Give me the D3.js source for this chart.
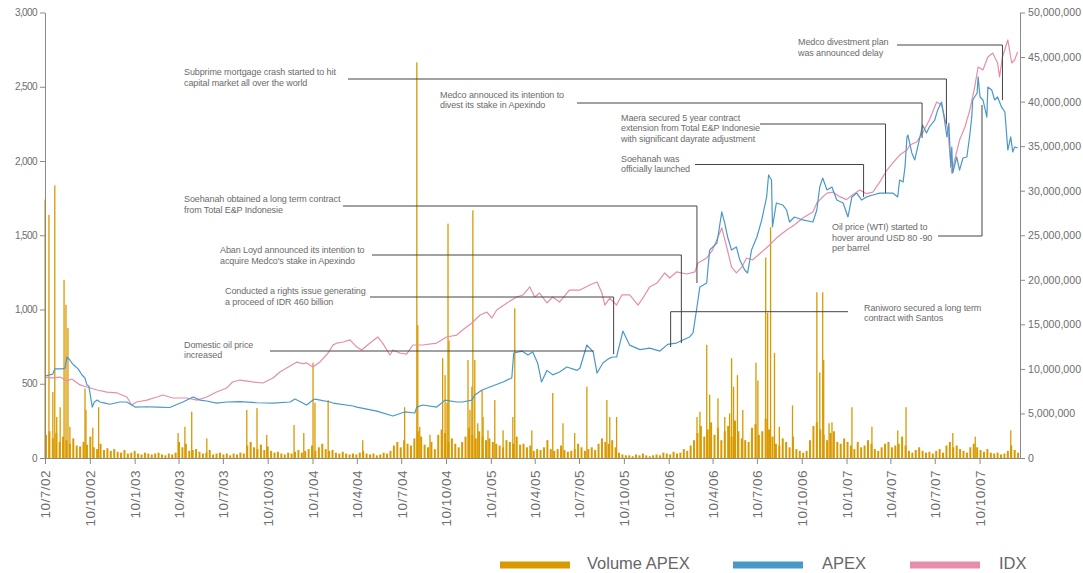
<!DOCTYPE html>
<html>
<head>
<meta charset="utf-8">
<script src="https://cdn.jsdelivr.net/npm/d3@7"></script>
<style>
  body { margin: 0; background: #fff; }
  svg text { font-family: "Liberation Sans", Arial, sans-serif; }
</style>
</head>
<body>
<svg id="chart" width="1083" height="573"></svg>
<script>
// ---- data ----
// APEX share price (left axis)
const apex = [
  ["2002-07-10",552],["2002-07-26",565],["2002-07-30",600],["2002-08-14",600],["2002-08-20",605],["2002-08-24",680],
  ["2002-08-30",660],["2002-09-03",640],["2002-09-07",626],["2002-09-16",600],["2002-09-24",559],["2002-09-30",539],
  ["2002-10-04",492],["2002-10-08",485],["2002-10-15",343],["2002-10-19",375],["2002-10-25",390],["2002-10-31",377],
  ["2002-11-10",370],["2002-11-20",362],["2002-12-11",377],["2002-12-25",377],["2003-01-04",357],["2003-01-11",343],
  ["2003-02-04",345],["2003-02-25",343],["2003-03-23",340],["2003-04-09",364],["2003-04-19",377],["2003-05-10",411],
  ["2003-05-24",390],["2003-06-07",384],["2003-06-27",370],["2003-07-18",377],["2003-08-14",380],["2003-09-18",372],
  ["2003-10-21",370],["2003-11-25",377],["2003-12-05",397],["2003-12-29",357],["2004-01-11",390],["2004-01-15",397],
  ["2004-02-15",377],["2004-02-21",370],["2004-04-02",350],["2004-04-10",343],["2004-05-21",316],["2004-06-23",283],
  ["2004-07-17",310],["2004-08-07",303],["2004-08-11",343],["2004-08-23",357],["2004-09-21",343],["2004-10-08",390],
  ["2004-11-01",377],["2004-11-13",377],["2004-12-02",390],["2004-12-08",424],["2004-12-23",458],["2005-01-08",478],
  ["2005-02-04",512],["2005-02-22",539],["2005-02-26",707],["2005-03-15",720],["2005-03-27",694],["2005-04-06",714],
  ["2005-04-16",640],["2005-04-24",512],["2005-05-05",590],["2005-05-17",560],["2005-05-31",579],["2005-06-15",613],
  ["2005-07-06",590],["2005-07-12",606],["2005-07-26",761],["2005-08-08",714],["2005-08-16",572],["2005-08-28",640],
  ["2005-09-05",660],["2005-09-11",673],["2005-09-17",680],["2005-09-25",680],["2005-10-08",855],["2005-10-22",760],
  ["2005-11-12",730],["2005-12-02",740],["2005-12-23",720],["2006-01-08",765],["2006-01-18",770],["2006-01-26",774],
  ["2006-02-08",795],["2006-02-22",815],["2006-03-01",842],["2006-03-09",1017],["2006-03-15",1152],["2006-03-29",1178],
  ["2006-04-04",1400],["2006-04-19",1448],["2006-04-29",1657],["2006-05-05",1582],["2006-05-11",1488],["2006-05-19",1400],
  ["2006-05-29",1421],["2006-06-05",1333],["2006-06-15",1266],["2006-06-21",1246],["2006-06-29",1400],["2006-07-10",1488],
  ["2006-07-20",1603],["2006-07-30",1758],["2006-08-03",1906],["2006-08-09",1872],["2006-08-11",1556],["2006-08-19",1717],
  ["2006-09-01",1704],["2006-09-09",1670],["2006-09-15",1589],["2006-09-25",1623],["2006-10-12",1603],["2006-11-02",1589],
  ["2006-11-10",1670],["2006-11-16",1825],["2006-11-22",1885],["2006-12-01",1805],["2006-12-11",1825],["2006-12-21",1737],
  ["2007-01-03",1717],["2007-01-13",1623],["2007-01-21",1758],["2007-01-31",1784],["2007-02-10",1737],["2007-02-20",1758],
  ["2007-03-05",1771],["2007-03-19",1784],["2007-04-03",1784],["2007-04-15",1784],["2007-04-25",1758],["2007-04-29",1872],
  ["2007-05-06",1858],["2007-05-10",1960],["2007-05-14",2162],["2007-05-16",2175],["2007-05-24",2054],["2007-05-30",2007],
  ["2007-06-05",2094],["2007-06-13",2209],["2007-06-15",2242],["2007-06-23",2189],["2007-06-29",2229],["2007-07-10",2276],
  ["2007-07-16",2343],["2007-07-24",2397],["2007-07-28",2323],["2007-08-04",2162],["2007-08-08",2256],["2007-08-12",1960],
  ["2007-08-14",2094],["2007-08-16",1919],["2007-08-24",2027],["2007-08-30",1939],["2007-09-06",2020],["2007-09-14",2027],
  ["2007-09-20",2175],["2007-09-24",2296],["2007-09-26",2411],["2007-10-05",2458],["2007-10-07",2566],["2007-10-11",2431],
  ["2007-10-17",2411],["2007-10-25",2296],["2007-10-27",2498],["2007-11-04",2478],["2007-11-10",2411],["2007-11-16",2431],
  ["2007-11-24",2364],["2007-12-01",2330],["2007-12-07",2074],["2007-12-13",2162],["2007-12-17",2061],["2007-12-21",2094],
  ["2007-12-27",2088]
];

// IDX composite (left axis)
const idx = [
  ["2002-07-10",545],["2002-07-26",539],["2002-08-10",545],["2002-08-24",519],["2002-09-03",532],["2002-09-20",492],
  ["2002-10-04",478],["2002-10-25",458],["2002-11-14",444],["2002-12-05",438],["2002-12-25",411],["2003-01-04",357],
  ["2003-01-14",377],["2003-02-04",390],["2003-02-25",411],["2003-03-09",424],["2003-03-29",404],["2003-04-27",404],
  ["2003-05-18",390],["2003-06-07",411],["2003-06-27",444],["2003-07-18",471],["2003-07-30",512],["2003-08-14",525],
  ["2003-09-09",512],["2003-09-30",505],["2003-10-21",539],["2003-11-04",579],["2003-11-25",620],["2003-12-09",646],
  ["2003-12-21",635],["2003-12-29",640],["2004-01-11",613],["2004-01-25",646],["2004-02-11",707],["2004-02-21",760],
  ["2004-02-29",774],["2004-03-13",781],["2004-03-27",795],["2004-04-10",747],["2004-04-20",727],["2004-05-07",774],
  ["2004-05-23",815],["2004-06-02",774],["2004-06-17",694],["2004-06-23",727],["2004-07-07",707],["2004-07-21",700],
  ["2004-08-03",761],["2004-08-23",761],["2004-09-21",774],["2004-10-11",815],["2004-11-01",828],["2004-11-13",862],
  ["2004-12-02",909],["2004-12-19",963],["2005-01-02",983],["2005-01-12",943],["2005-01-22",997],["2005-02-12",1044],
  ["2005-03-04",1084],["2005-03-17",1098],["2005-03-31",1152],["2005-04-10",1084],["2005-04-20",1111],["2005-05-05",1044],
  ["2005-05-17",1084],["2005-05-31",1050],["2005-06-20",1131],["2005-07-12",1131],["2005-08-01",1165],["2005-08-16",1185],
  ["2005-08-26",1111],["2005-09-01",1030],["2005-09-11",1077],["2005-09-25",1030],["2005-10-06",1098],["2005-10-22",1098],
  ["2005-11-08",1030],["2005-11-18",1077],["2005-12-02",1152],["2005-12-17",1178],["2006-01-02",1246],["2006-01-12",1212],
  ["2006-01-26",1253],["2006-02-16",1239],["2006-03-05",1253],["2006-03-11",1313],["2006-03-29",1347],["2006-04-10",1400],
  ["2006-04-29",1549],["2006-05-09",1421],["2006-05-19",1286],["2006-05-29",1246],["2006-06-09",1286],["2006-06-19",1347],
  ["2006-07-01",1333],["2006-07-20",1387],["2006-08-05",1434],["2006-08-19",1481],["2006-09-09",1535],["2006-09-25",1569],
  ["2006-10-12",1616],["2006-11-02",1657],["2006-11-10",1717],["2006-11-22",1758],["2006-12-01",1784],["2006-12-13",1791],
  ["2006-12-27",1760],["2007-01-10",1740],["2007-01-22",1771],["2007-02-06",1805],["2007-02-20",1780],["2007-03-05",1790],
  ["2007-03-19",1858],["2007-04-03",1939],["2007-04-15",1987],["2007-04-29",2040],["2007-05-14",2074],["2007-05-20",2108],
  ["2007-06-03",2128],["2007-06-15",2189],["2007-06-29",2276],["2007-07-14",2397],["2007-07-24",2377],["2007-07-30",2296],
  ["2007-08-06",2209],["2007-08-10",2054],["2007-08-14",1919],["2007-08-20",2007],["2007-08-30",2141],["2007-09-10",2229],
  ["2007-09-20",2343],["2007-09-30",2498],["2007-10-07",2633],["2007-10-17",2613],["2007-10-27",2700],["2007-11-06",2727],
  ["2007-11-16",2660],["2007-11-20",2566],["2007-11-26",2700],["2007-12-07",2815],["2007-12-15",2660],["2007-12-21",2680],
  ["2007-12-27",2734]
];

// APEX volume, typical weekly level in millions of shares (right axis), weeks from 10 Jul 2002
const volWeekStart = "2002-07-10";
const volWeekly = [
  2.6,3.0,2.2,2.8,1.8,2.4,2.0,1.6,2.2,1.4, 1.3,1.8,1.5,2.4,1.2,1.0,1.6,0.9,1.1,0.8,
  1.0,0.7,0.6,0.9,0.5,0.6,0.8,0.5,0.4,0.6, 0.5,0.4,0.5,0.6,0.4,0.3,0.5,0.4,0.6,1.8,
  1.2,1.6,0.8,0.9,1.0,0.7,0.5,0.6,0.9,0.4, 0.5,0.6,0.4,0.5,0.3,0.5,0.4,0.6,0.5,1.4,
  1.8,1.2,1.0,1.5,0.9,1.3,0.8,0.6,0.7,0.5, 0.4,0.6,0.5,0.7,0.9,0.6,0.8,1.0,1.4,0.8,
  1.2,1.6,1.0,0.8,0.9,0.6,0.5,0.7,0.5,0.4, 0.5,0.4,0.6,0.8,0.5,0.4,0.5,0.3,0.4,0.6,
  0.5,0.8,1.4,1.8,1.2,2.0,1.6,1.4,2.2,3.0, 2.4,1.5,1.2,1.8,1.0,2.6,3.2,2.8,1.8,2.2,
  1.6,1.2,1.8,2.4,3.4,2.6,2.2,3.0,2.4,2.0, 2.2,1.8,1.6,1.4,1.2,2.0,1.8,1.6,2.4,1.5,
  1.6,1.2,1.4,0.8,1.0,0.9,1.2,2.0,1.0,0.8, 1.0,1.4,0.9,0.7,0.8,1.0,1.6,1.2,0.8,1.0,
  1.2,0.9,1.6,2.2,1.8,1.6,2.0,1.2,0.6,0.4, 0.3,0.3,0.2,0.4,0.3,0.5,0.3,0.2,0.3,0.4,
  0.3,0.6,0.5,0.4,0.7,0.5,0.6,1.0,0.8,1.4, 2.0,2.8,3.6,2.4,3.2,4.0,2.6,3.4,2.0,3.0,
  3.6,2.4,4.2,3.0,2.2,2.0,1.8,3.4,3.8,2.6, 3.0,4.4,3.2,2.4,1.6,1.4,2.2,1.8,1.2,2.4,
  1.0,0.8,0.6,0.8,2.0,3.6,4.0,3.2,2.6,2.0, 2.8,3.0,1.8,1.6,2.2,1.8,1.4,1.0,1.8,1.2,
  1.4,2.0,1.6,1.0,0.8,1.2,1.6,1.8,1.2,1.4, 1.6,2.4,1.4,0.8,0.6,0.9,1.2,0.8,0.6,0.7,
  0.5,0.8,1.0,0.6,1.4,1.8,1.2,1.4,1.0,0.8, 0.6,1.2,1.6,1.2,0.9,0.7,1.0,0.6,0.5,0.6,
  0.4,0.5,0.8,1.4,0.9,0.6
];

// single-day volume spikes, millions of shares
const volSpikes = [
  ["2002-07-10",29.0],["2002-07-18",27.3],["2002-07-26",7.4],["2002-07-30",30.6],["2002-08-03",4.6],["2002-08-10",5.7],
  ["2002-08-18",20.0],["2002-08-22",17.2],["2002-08-26",14.6],["2002-08-30",3.5],["2002-09-30",7.8],["2002-10-02",5.4],
  ["2002-10-16",3.4],["2002-10-28",5.7],["2003-04-09",2.8],["2003-04-23",3.5],["2003-05-07",5.2],["2003-06-07",2.2],
  ["2003-08-28",5.4],["2003-09-18",5.6],["2003-10-08",2.6],["2003-12-03",3.7],["2003-12-23",2.8],["2004-01-11",10.7],
  ["2004-01-15",6.2],["2004-02-11",6.5],["2004-04-22",2.0],["2004-07-17",5.7],["2004-08-11",44.4],["2004-08-13",14.9],
  ["2004-08-17",3.5],["2004-09-07",2.6],["2004-10-03",11.2],["2004-10-08",9.3],["2004-10-12",6.2],["2004-10-14",26.3],
  ["2004-10-16",13.2],["2004-11-24",11.0],["2004-11-28",5.4],["2004-12-02",8.0],["2004-12-04",27.8],["2004-12-08",11.0],
  ["2004-12-14",3.9],["2004-12-23",7.6],["2004-12-25",4.6],["2005-01-04",3.1],["2005-01-18",6.5],["2005-02-04",3.1],
  ["2005-02-24",4.6],["2005-02-28",16.8],["2005-04-04",3.1],["2005-05-17",7.3],["2005-06-07",3.9],["2005-07-01",2.8],
  ["2005-07-26",8.0],["2005-09-05",6.5],["2005-09-11",4.6],["2005-09-25",4.6],["2006-03-09",4.6],["2006-03-15",5.2],
  ["2006-03-29",12.7],["2006-04-04",7.1],["2006-04-21",6.7],["2006-05-05",4.6],["2006-05-15",5.0],["2006-05-19",11.2],
  ["2006-05-23",8.0],["2006-05-31",9.3],["2006-06-11",5.4],["2006-06-29",2.9],["2006-07-08",10.7],["2006-07-12",8.7],
  ["2006-07-28",22.5],["2006-08-01",16.3],["2006-08-07",25.9],["2006-08-15",11.8],["2006-08-25",3.5],["2006-09-21",5.9],
  ["2006-11-10",18.6],["2006-11-16",9.6],["2006-11-22",18.6],["2006-11-24",11.0],["2006-12-05",3.9],["2006-12-11",4.0],
  ["2007-01-21",5.7],["2007-03-03",3.5],["2007-04-25",3.1],["2007-05-12",5.7],["2007-08-16",2.8],["2007-10-01",2.4],
  ["2007-12-13",3.1]
];

const leftTicks = [0, 500, 1000, 1500, 2000, 2500, 3000];
const rightTicks = [0, 5e6, 10e6, 15e6, 20e6, 25e6, 30e6, 35e6, 40e6, 45e6, 50e6];
const xTicks = ["2002-07-10","2002-10-10","2003-01-10","2003-04-10","2003-07-10","2003-10-10","2004-01-10","2004-04-10",
  "2004-07-10","2004-10-10","2005-01-10","2005-04-10","2005-07-10","2005-10-10","2006-01-10","2006-04-10",
  "2006-07-10","2006-10-10","2007-01-10","2007-04-10","2007-07-10","2007-10-10"];

// events: date of the connector, value where it points (left axis), label lines
const events = [
  { date: "2007-08-03", value: 2250, text: ["Subprime mortgage crash started to hit", "capital market all over the world"] },
  { date: "2007-06-14", value: 2155, text: ["Medco annouced its intention to", "divest its stake in Apexindo"] },
  { date: "2007-03-31", value: 1785, text: ["Maera secured 5 year contract", "extension from Total E&P Indonesie", "with significant dayrate adjustment"] },
  { date: "2007-02-14", value: 1758, text: ["Soehanah was", "officially launched"] },
  { date: "2006-03-09", value: 1178, text: ["Soehanah obtained a long term contract", "from Total E&P Indonesie"] },
  { date: "2006-02-05", value: 774, text: ["Aban Loyd announced its intention to", "acquire Medco's stake in Apexindo"] },
  { date: "2005-09-19", value: 700, text: ["Conducted a rights issue generating", "a proceed of IDR 460 billion"] },
  { date: "2005-08-09", value: null, text: ["Domestic oil price", "increased"] },
  { date: "2006-01-14", value: 747, text: ["Raniworo secured a long term", "contract with  Santos"] },
  { date: "2007-10-15", value: 2377, text: ["Oil price (WTI) started to", "hover around USD 80 -90", "per barrel"] },
  { date: "2007-11-26", value: 2411, text: ["Medco divestment plan", "was announced delay"] }
];

// ---- layout ----
const X0 = 45, X1 = 1020, Y0 = 458, Y1 = 12.5;
// label position (tx, first baseline ty) and horizontal connector (ly, starting at lx)
const eventLayout = [
  { tx: 184, ty: 75, ly: 79, lx: 348 },
  { tx: 440, ty: 97.5, ly: 103, lx: 577 },
  { tx: 621, ty: 120.5, ly: 124, lx: 760 },
  { tx: 621, ty: 161.5, ly: 164.5, lx: 695 },
  { tx: 184, ty: 202, ly: 206, lx: 343 },
  { tx: 220, ty: 253.2, ly: 255, lx: 372 },
  { tx: 225, ty: 294, ly: 297, lx: 370 },
  { tx: 184, ty: 347.5, ly: 351, lx: 270 },
  { tx: 864, ty: 310.5, ly: 311.7, lx: 848 },
  { tx: 832, ty: 230, ly: 236, lx: 938 },
  { tx: 798, ty: 45, ly: 45, lx: 897 }
];

const colVol = "#d99a00", colApex = "#4a98c8", colIdx = "#e68eab";
const axisCol = "#8a8a8a", labelCol = "#6e6e6e";

const parse = d3.timeParse("%Y-%m-%d");
const svg = d3.select("#chart");

const x = d3.scaleTime().domain([parse("2002-07-10"), parse("2008-01-01")]).range([X0, X1]);
const yL = d3.scaleLinear().domain([0, 3000]).range([Y0, Y1]);
const yR = d3.scaleLinear().domain([0, 50e6]).range([Y0, Y1]);

// volume bars
const start = parse(volWeekStart);
const weekly = volWeekly.map((v, i) => ({ date: d3.timeDay.offset(start, i * 7), v: v * 1e6 }));
svg.append("g").selectAll("rect")
  .data(weekly)
  .enter()
  .append("rect")
  .attr("x", d => x(d.date))
  .attr("y", d => yR(d.v))
  .attr("width", 2)
  .attr("height", d => Y0 - yR(d.v))
  .attr("fill", colVol);

svg.append("g").selectAll("rect")
  .data(volSpikes)
  .enter()
  .append("rect")
  .attr("x", d => x(parse(d[0])) - 0.6)
  .attr("y", d => yR(d[1] * 1e6))
  .attr("width", 1.3)
  .attr("height", d => Y0 - yR(d[1] * 1e6))
  .attr("fill", colVol);

// lines
const line = d3.line()
  .x(d => x(parse(d[0])))
  .y(d => yL(d[1]));

svg.append("path").datum(idx)
  .attr("d", line).attr("fill", "none")
  .attr("stroke", colIdx).attr("stroke-width", 1.2).attr("stroke-linejoin", "round");
svg.append("path").datum(apex)
  .attr("d", line).attr("fill", "none")
  .attr("stroke", colApex).attr("stroke-width", 1.2).attr("stroke-linejoin", "round");

// axes
function styleAxis(g) {
  g.select(".domain").attr("stroke", axisCol);
  g.selectAll(".tick line").attr("stroke", axisCol);
  g.selectAll(".tick text").attr("fill", labelCol);
}

const fmt = d3.format(",");
svg.append("g")
  .attr("transform", "translate(" + X0 + ",0)")
  .call(d3.axisLeft(yL).tickValues(leftTicks).tickFormat(fmt).tickSize(5).tickSizeOuter(0).tickPadding(3))
  .call(styleAxis)
  .call(g => g.selectAll(".tick text").style("font-size", "10px").style("letter-spacing", "-0.6px"));

svg.append("g")
  .attr("transform", "translate(" + X1 + ",0)")
  .call(d3.axisRight(yR).tickValues(rightTicks).tickFormat(fmt).tickSize(5).tickSizeOuter(0).tickPadding(3))
  .call(styleAxis)
  .call(g => g.selectAll(".tick text").style("font-size", "10.6px"));

const xFmt = d3.timeFormat("%-d/%-m/%y");
svg.append("g")
  .attr("transform", "translate(0," + Y0 + ")")
  .call(d3.axisBottom(x).tickValues(xTicks.map(parse)).tickFormat(xFmt).tickSize(6).tickSizeOuter(0))
  .call(styleAxis)
  .call(g => g.selectAll(".tick text")
    .attr("transform", "rotate(-90)")
    .attr("text-anchor", "end")
    .attr("x", -12)
    .attr("y", 0)
    .attr("dy", "0.36em")
    .style("font-size", "13.5px")
    .style("letter-spacing", "0.5px"));

// annotations
const ann = svg.append("g");
events.forEach(function (e, i) {
  const L = eventLayout[i];
  const ex = x(parse(e.date));
  let d = "M" + L.lx + "," + L.ly + "H" + ex;
  if (e.value !== null) d += "V" + yL(e.value);
  ann.append("path").attr("d", d)
    .attr("fill", "none").attr("stroke", "#444").attr("stroke-width", 1);
  const t = ann.append("text")
    .attr("x", L.tx).attr("y", L.ty)
    .attr("fill", "#6b6b6b")
    .style("font-size", "9px")
    .style("letter-spacing", "-0.1px");
  e.text.forEach(function (s, k) {
    t.append("tspan").attr("x", L.tx).attr("dy", k === 0 ? 0 : 10.5).text(s);
  });
});

// legend
const legend = [
  { name: "Volume APEX", color: colVol, sx: 500, tx: 587 },
  { name: "APEX", color: colApex, sx: 733, tx: 822 },
  { name: "IDX", color: colIdx, sx: 910, tx: 999 }
];
const lg = svg.append("g");
lg.selectAll("rect").data(legend).enter().append("rect")
  .attr("x", d => d.sx).attr("y", 561.5).attr("width", 70).attr("height", 7)
  .attr("fill", d => d.color);
lg.selectAll("text").data(legend).enter().append("text")
  .attr("x", d => d.tx).attr("y", 569)
  .attr("fill", "#666")
  .style("font-size", "16.5px")
  .text(d => d.name);
</script>
</body>
</html>
